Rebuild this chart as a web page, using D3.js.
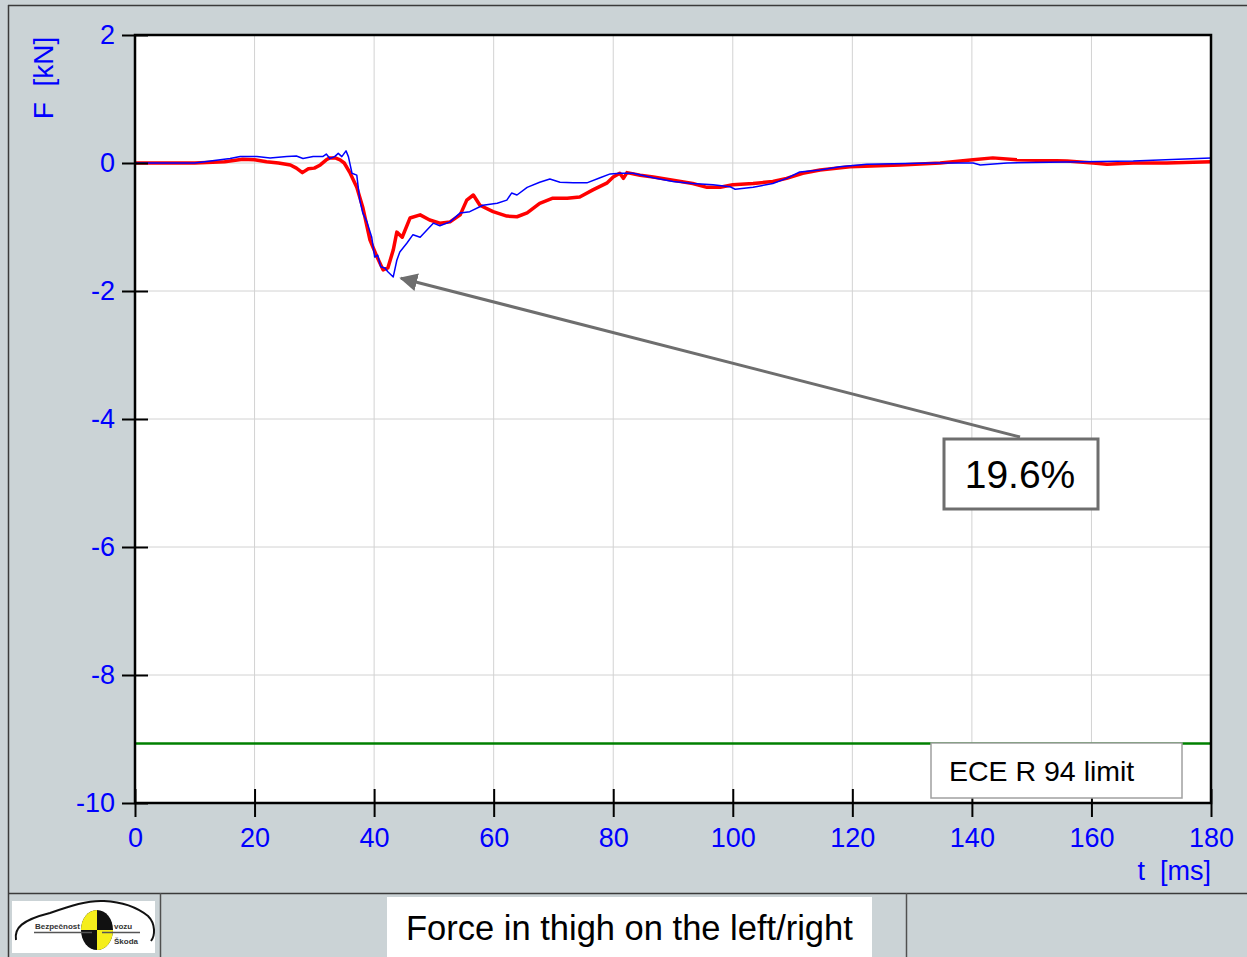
<!DOCTYPE html>
<html>
<head>
<meta charset="utf-8">
<script src="https://cdn.jsdelivr.net/npm/d3@7"></script>
<style>
  body { margin: 0; background: #cbd3d6; }
  svg { display: block; font-family: "Liberation Sans", Arial, sans-serif; }
</style>
</head>
<body>
<svg id="chart" width="1247" height="957"></svg>
<script>
// time [ms] and force [kN]
const redT = [0, 5, 10, 15, 18, 20, 22, 24, 26, 27, 28, 29, 30, 31, 32, 32.6, 33.5, 34.3, 35, 36, 37.1, 38.1, 39.3, 40.5, 41.5, 42.3, 43.2, 43.8, 44.7, 46, 47.7, 49.3, 51, 52.7, 54.4, 55.5, 56.6, 57.7, 59.9, 62.2, 63.9, 65.6, 67.7, 69.9, 72.3, 74.4, 76.6, 79, 80, 81.1, 81.7, 82.3, 84.5, 86.7, 90, 93.3, 95.7, 97.9, 100, 103.4, 106.7, 109, 111.7, 114.6, 119.6, 128, 134.7, 140.2, 143.5, 147.5, 155.9, 160.3, 162.6, 167, 172.6, 180];
const redF = [0, 0, 0, 0.02, 0.06, 0.05, 0.02, 0, -0.03, -0.08, -0.15, -0.09, -0.08, -0.03, 0.05, 0.08, 0.08, 0.05, 0, -0.16, -0.38, -0.69, -1.2, -1.47, -1.67, -1.64, -1.36, -1.08, -1.16, -0.86, -0.81, -0.89, -0.94, -0.92, -0.81, -0.58, -0.5, -0.66, -0.76, -0.83, -0.84, -0.78, -0.63, -0.55, -0.55, -0.53, -0.42, -0.31, -0.22, -0.16, -0.24, -0.15, -0.19, -0.22, -0.27, -0.32, -0.38, -0.38, -0.34, -0.32, -0.29, -0.24, -0.16, -0.11, -0.06, -0.03, 0, 0.05, 0.08, 0.05, 0.03, 0, -0.02, 0, 0, 0.02];

const blueT = [0, 5, 10, 15.9, 17.6, 20.4, 22.6, 25.4, 27, 28.1, 29.8, 31.4, 32, 32.6, 33.4, 34, 34.6, 35.3, 35.7, 36.3, 37.1, 37.6, 38.1, 38.8, 39.6, 40.1, 40.6, 41.1, 41.8, 42.3, 43.2, 43.8, 44.3, 45.5, 46.5, 47.7, 49.9, 51, 52.7, 54.4, 56, 58.2, 60.6, 62.2, 63, 63.9, 65.6, 67.7, 69.4, 71.1, 73.3, 75.6, 77.8, 79.5, 81.1, 83.3, 86.7, 90, 93.3, 96.7, 99.5, 100.4, 103.4, 106.7, 109, 111.2, 114.6, 117.9, 122.4, 133.5, 140.2, 141.4, 145.9, 158.6, 167, 180];
const blueF = [0, 0, 0, 0.07, 0.1, 0.1, 0.08, 0.1, 0.11, 0.07, 0.1, 0.1, 0.14, 0.07, 0.1, 0.15, 0.1, 0.19, 0.1, -0.16, -0.19, -0.58, -0.78, -0.92, -1.16, -1.47, -1.44, -1.62, -1.64, -1.7, -1.78, -1.52, -1.39, -1.25, -1.12, -1.16, -0.94, -0.98, -0.92, -0.78, -0.76, -0.66, -0.63, -0.58, -0.47, -0.5, -0.38, -0.3, -0.25, -0.3, -0.31, -0.31, -0.23, -0.17, -0.16, -0.16, -0.23, -0.29, -0.32, -0.34, -0.37, -0.41, -0.38, -0.32, -0.24, -0.14, -0.11, -0.06, -0.02, 0, 0, -0.03, 0, 0.02, 0.03, 0.08];

const xTicks = [0, 20, 40, 60, 80, 100, 120, 140, 160, 180];
const yTicks = [2, 0, -2, -4, -6, -8, -10];
const limitValue = -9.07;
const peakPoint = [44.5, -1.8];
const peakLabel = '19.6%';

const svg = d3.select('#chart');

// frame of the report page
svg.append('line').attr('x1', 8).attr('x2', 1247).attr('y1', 5.5).attr('y2', 5.5)
   .attr('stroke', '#3a3a3a').attr('stroke-width', 1.5);
svg.append('line').attr('x1', 8.5).attr('x2', 8.5).attr('y1', 5).attr('y2', 957)
   .attr('stroke', '#3a3a3a').attr('stroke-width', 1.5);
svg.append('line').attr('x1', 8).attr('x2', 1247).attr('y1', 893.5).attr('y2', 893.5)
   .attr('stroke', '#3a3a3a').attr('stroke-width', 1.5);
[160.5, 906.5].forEach(x => {
  svg.append('line').attr('x1', x).attr('x2', x).attr('y1', 893).attr('y2', 957)
     .attr('stroke', '#505050').attr('stroke-width', 1.5);
});

const margin = {top: 35, left: 135, right: 1211, bottom: 803};

const x = d3.scaleLinear().domain([0, 180]).range([margin.left, margin.right]);
const y = d3.scaleLinear().domain([-10, 2]).range([margin.bottom, margin.top]);

// plot area
svg.append('rect')
   .attr('x', margin.left).attr('y', margin.top)
   .attr('width', margin.right - margin.left).attr('height', margin.bottom - margin.top)
   .attr('fill', '#fff');

// grid
svg.append('g').selectAll('line').data(xTicks.slice(1, -1)).join('line')
   .attr('x1', d => x(d)).attr('x2', d => x(d))
   .attr('y1', margin.top).attr('y2', margin.bottom)
   .attr('stroke', '#d2d2d2').attr('stroke-width', 1);
svg.append('g').selectAll('line').data(yTicks.slice(1, -1)).join('line')
   .attr('x1', margin.left).attr('x2', margin.right)
   .attr('y1', d => y(d)).attr('y2', d => y(d))
   .attr('stroke', '#d2d2d2').attr('stroke-width', 1);

// limit line
svg.append('line')
   .attr('x1', x(0)).attr('x2', x(180))
   .attr('y1', y(limitValue)).attr('y2', y(limitValue))
   .attr('stroke', '#008000').attr('stroke-width', 2.5);

// curves
const line = d3.line().x(d => x(d[0])).y(d => y(d[1]));
const redData = redT.map((t, i) => [t, redF[i]]);
const blueData = blueT.map((t, i) => [t, blueF[i]]);

svg.append('path').datum(redData)
   .attr('fill', 'none').attr('stroke', '#ff0000').attr('stroke-width', 3.5)
   .attr('stroke-linejoin', 'round').attr('d', line);
svg.append('path').datum(blueData)
   .attr('fill', 'none').attr('stroke', '#0000ff').attr('stroke-width', 1.5)
   .attr('stroke-linejoin', 'round').attr('d', line);

// border of plot
svg.append('rect')
   .attr('x', margin.left).attr('y', margin.top)
   .attr('width', margin.right - margin.left).attr('height', margin.bottom - margin.top)
   .attr('fill', 'none').attr('stroke', '#000').attr('stroke-width', 2.5);

// axes
const xAxis = svg.append('g')
   .attr('transform', `translate(0,${margin.bottom})`)
   .call(d3.axisBottom(x).tickValues(xTicks).tickSize(14).tickPadding(11)
           .tickFormat(d => String(d)));
xAxis.select('.domain').remove();
xAxis.selectAll('.tick line').attr('y1', -14).attr('stroke', '#000').attr('stroke-width', 2);
xAxis.selectAll('.tick text').attr('fill', '#0000ff').attr('font-size', 27)
   .attr('font-family', '"Liberation Sans", Arial, sans-serif');

const yAxis = svg.append('g')
   .attr('transform', `translate(${margin.left},0)`)
   .call(d3.axisLeft(y).tickValues(yTicks).tickSize(13).tickPadding(7)
           .tickFormat(d => String(d)));
yAxis.select('.domain').remove();
yAxis.selectAll('.tick line').attr('x1', 13).attr('stroke', '#000').attr('stroke-width', 2);
yAxis.selectAll('.tick text').attr('fill', '#0000ff').attr('font-size', 27)
   .attr('font-family', '"Liberation Sans", Arial, sans-serif');

// axis titles
svg.append('text')
   .attr('x', 1211).attr('y', 880).attr('text-anchor', 'end')
   .attr('fill', '#0000ff').attr('font-size', 27)
   .style('white-space', 'pre').text('t  [ms]');
svg.append('text')
   .attr('transform', 'translate(53,78) rotate(-90)').attr('text-anchor', 'middle')
   .attr('fill', '#0000ff').attr('font-size', 28)
   .style('white-space', 'pre').text('F  [kN]');

// legend for the limit
svg.append('rect')
   .attr('x', 931).attr('y', 743).attr('width', 251).attr('height', 55)
   .attr('fill', '#fff').attr('stroke', '#a0a0a0').attr('stroke-width', 1.5);
svg.append('text')
   .attr('x', 949).attr('y', 781).attr('font-size', 28.5).attr('fill', '#000')
   .text('ECE R 94 limit');

// annotation with arrow
svg.append('defs').append('marker')
   .attr('id', 'head').attr('viewBox', '0 0 10 10').attr('refX', 9).attr('refY', 5)
   .attr('markerWidth', 6).attr('markerHeight', 6).attr('orient', 'auto-start-reverse')
   .append('path').attr('d', 'M0,0L10,5L0,10z').attr('fill', '#6e6e6e');
svg.append('line')
   .attr('x1', 1020).attr('y1', 437)
   .attr('x2', x(peakPoint[0])).attr('y2', y(peakPoint[1]))
   .attr('stroke', '#6e6e6e').attr('stroke-width', 3)
   .attr('marker-end', 'url(#head)');
svg.append('rect')
   .attr('x', 944).attr('y', 439).attr('width', 154).attr('height', 70)
   .attr('fill', '#fff').attr('stroke', '#6e6e6e').attr('stroke-width', 3);
svg.append('text')
   .attr('x', 1020).attr('y', 488).attr('text-anchor', 'middle')
   .attr('font-size', 39).attr('fill', '#000').text(peakLabel);

// bottom bar: title
svg.append('rect').attr('x', 387).attr('y', 897).attr('width', 485).attr('height', 60).attr('fill', '#fff');
svg.append('text')
   .attr('x', 406).attr('y', 940).attr('font-size', 34.5).attr('fill', '#000')
   .text('Force in thigh on the left/right');

// bottom bar: logo
const logo = svg.append('g');
logo.append('rect').attr('x', 12).attr('y', 901).attr('width', 143).attr('height', 52).attr('fill', '#fff');
logo.append('path')
   .attr('d', 'M16,940 C14,928 22,920 50,913 C70,906 88,900 104,901 C124,902 138,908 148,916 C156,924 155,936 151,941')
   .attr('fill', 'none').attr('stroke', '#111').attr('stroke-width', 2);
const cx = 97, cy = 930, rx = 16, ry = 20;
logo.append('ellipse').attr('cx', cx).attr('cy', cy).attr('rx', rx).attr('ry', ry).attr('fill', '#111');
logo.append('path').attr('d', `M${cx},${cy} L${cx - rx},${cy} A${rx},${ry} 0 0 1 ${cx},${cy - ry} Z`).attr('fill', '#f5ee1c');
logo.append('path').attr('d', `M${cx},${cy} L${cx + rx},${cy} A${rx},${ry} 0 0 1 ${cx},${cy + ry} Z`).attr('fill', '#f5ee1c');
logo.append('line').attr('x1', 34).attr('x2', 92).attr('y1', 932.5).attr('y2', 932.5).attr('stroke', '#555').attr('stroke-width', 1.5);
logo.append('line').attr('x1', 102).attr('x2', 140).attr('y1', 932.5).attr('y2', 932.5).attr('stroke', '#555').attr('stroke-width', 1.5);
logo.append('text').attr('x', 35).attr('y', 929).attr('font-size', 8).attr('font-weight', 'bold').attr('fill', '#333').text('Bezpečnost');
logo.append('text').attr('x', 114).attr('y', 929).attr('font-size', 8).attr('font-weight', 'bold').attr('fill', '#333').text('vozu');
logo.append('text').attr('x', 114).attr('y', 944).attr('font-size', 8).attr('font-weight', 'bold').attr('fill', '#333').text('Škoda');
</script>
</body>
</html>
